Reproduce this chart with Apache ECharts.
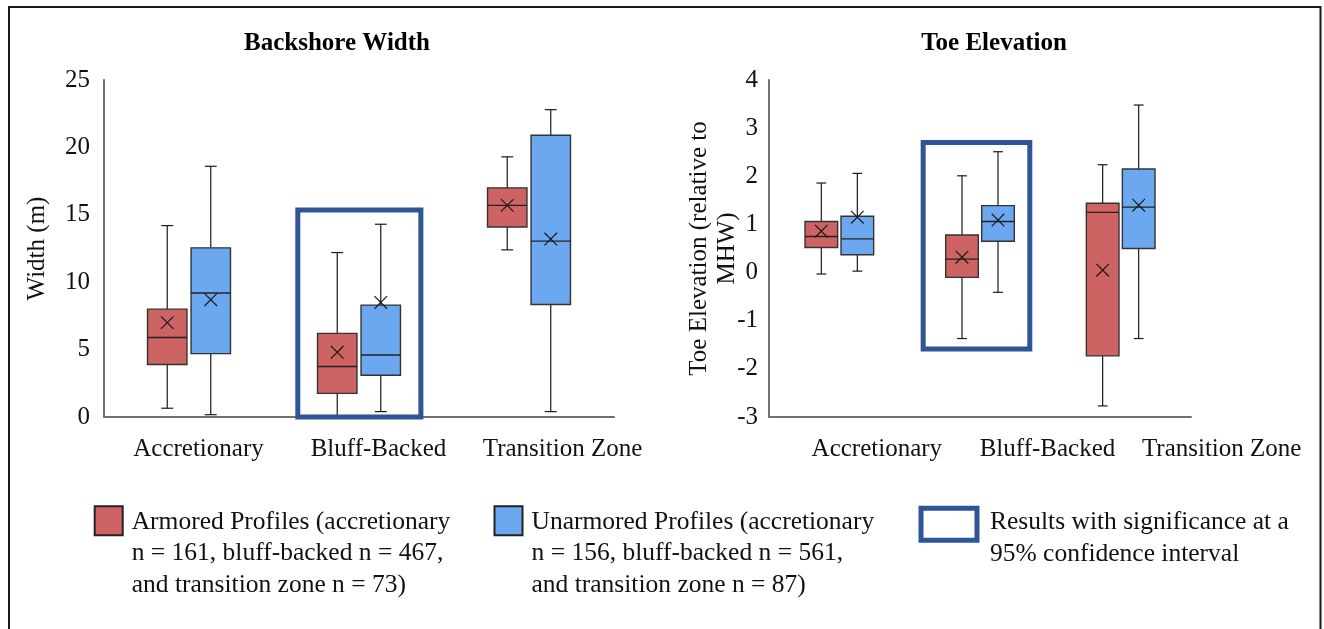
<!DOCTYPE html>
<html>
<head>
<meta charset="utf-8">
<title>Backshore Width and Toe Elevation</title>
<script src="https://cdn.jsdelivr.net/npm/echarts@6/dist/echarts.min.js"></script>
<style>
  html, body { margin: 0; padding: 0; background: #ffffff; }
  #chart { width: 1324px; height: 629px; }
</style>
</head>
<body>
<div id="chart"></div>
<script>
// ---- data -------------------------------------------------------------
const categories = ['Accretionary', 'Bluff-Backed', 'Transition Zone'];

// box statistics per category: [min, Q1, median, Q3, max, mean]
const widthArmored = [
  [0.65, 3.9, 5.9, 8.0, 14.2, 7.0],
  [0.0, 1.75, 3.75, 6.2, 12.2, 4.8],
  [12.4, 14.1, 15.7, 17.0, 19.3, 15.7]
];
const widthUnarmored = [
  [0.17, 4.7, 9.2, 12.55, 18.6, 8.7],
  [0.4, 3.1, 4.6, 8.3, 14.3, 8.5],
  [0.4, 8.35, 13.05, 20.9, 22.8, 13.2]
];
const toeArmored = [
  [-0.03, 0.52, 0.75, 1.06, 1.86, 0.86],
  [-1.37, -0.1, 0.28, 0.78, 2.01, 0.32],
  [-2.77, -1.73, 1.25, 1.44, 2.24, 0.05]
];
const toeUnarmored = [
  [0.03, 0.37, 0.70, 1.17, 2.06, 1.15],
  [-0.41, 0.65, 1.06, 1.39, 2.51, 1.09],
  [-1.37, 0.50, 1.36, 2.15, 3.48, 1.40]
];

// comparisons significant at 95%: [category index, lower value, upper value]
const widthSignificant = [[1, 0.0, 15.35]];
const toeSignificant = [[1, -1.59, 2.70]];

// value axis ticks
const widthTicks = { min: 0, max: 25, interval: 5 };
const toeTicks = { min: -3, max: 4, interval: 1 };

// titles and legend wording
const titles = ['Backshore Width', 'Toe Elevation'];
const widthAxisName = 'Width (m)';
const toeAxisName = 'Toe Elevation (relative to\nMHW)';
const armoredLines = ['Armored Profiles (accretionary', 'n = 161, bluff-backed n = 467,', 'and transition zone n = 73)'];
const unarmoredLines = ['Unarmored Profiles (accretionary', 'n = 156, bluff-backed n = 561,', 'and transition zone n = 87)'];
const significantLines = ['Results with significance at a', '95% confidence interval'];

// ---- styling ----------------------------------------------------------
const FONT = "'Liberation Serif', 'Times New Roman', serif";
const RED = '#CD6363';
const BLUE = '#6CA8EF';
const SIG_BLUE = '#2F5597';
const AXIS_GRAY = '#707070';
const LEGEND_LINE = 31.5;

const armoredName = armoredLines.join(' ');
const unarmoredName = unarmoredLines.join(' ');
const significantName = significantLines.join(' ');
const legendText = {};
legendText[armoredName] = armoredLines.join('\n');
legendText[unarmoredName] = unarmoredLines.join('\n');
legendText[significantName] = significantLines.join('\n');

// box-and-whisker with a mean cross; side = -1 (left of pair) or +1 (right)
function boxRenderer(side, fill) {
  return function (params, api) {
    const cat = api.value(0);
    const band = api.size([1, 0])[0];
    const x = api.coord([cat, 0])[0] + side * 0.128 * band;
    const w = 0.232 * band;
    const y = function (i) { return api.coord([cat, api.value(i)])[1]; };
    const yMin = y(1), yQ1 = y(2), yMed = y(3), yQ3 = y(4), yMax = y(5), yMean = y(6);
    const cap = w * 0.3;
    const m = 6.3;
    const line = { stroke: '#1a1a1a', lineWidth: 1.2 };
    return {
      type: 'group',
      children: [
        { type: 'line', shape: { x1: x, y1: yMax, x2: x, y2: yQ3 }, style: line },
        { type: 'line', shape: { x1: x, y1: yQ1, x2: x, y2: yMin }, style: line },
        { type: 'line', shape: { x1: x - cap / 2, y1: yMax, x2: x + cap / 2, y2: yMax }, style: line },
        { type: 'line', shape: { x1: x - cap / 2, y1: yMin, x2: x + cap / 2, y2: yMin }, style: line },
        { type: 'rect', shape: { x: x - w / 2, y: yQ3, width: w, height: yQ1 - yQ3 },
          style: { fill: fill, stroke: '#333333', lineWidth: 1.4 } },
        { type: 'line', shape: { x1: x - w / 2, y1: yMed, x2: x + w / 2, y2: yMed },
          style: { stroke: '#222222', lineWidth: 1.4 } },
        { type: 'line', shape: { x1: x - m, y1: yMean - m, x2: x + m, y2: yMean + m }, style: line },
        { type: 'line', shape: { x1: x - m, y1: yMean + m, x2: x + m, y2: yMean - m }, style: line }
      ]
    };
  };
}

// outline around a significant category; lo/hi are band fractions from its centre
function sigRenderer(lo, hi) {
  return function (params, api) {
    const cat = api.value(0);
    const band = api.size([1, 0])[0];
    const cx = api.coord([cat, 0])[0];
    const yLow = api.coord([cat, api.value(1)])[1];
    const yHigh = api.coord([cat, api.value(2)])[1];
    return {
      type: 'rect',
      shape: { x: cx + lo * band, y: yHigh, width: (hi - lo) * band, height: yLow - yHigh },
      style: { fill: 'none', stroke: SIG_BLUE, lineWidth: 5 }
    };
  };
}

function withIndex(rows) {
  return rows.map(function (r, i) { return [i].concat(r); });
}

// category labels sit a little right of their bands
function categoryAxis(gridIndex, shifts) {
  const rich = {};
  shifts.forEach(function (s, i) {
    rich['c' + i] = { fontFamily: FONT, fontSize: 25, color: '#111', padding: [0, 0, 0, 2 * s] };
  });
  return {
    type: 'category',
    gridIndex: gridIndex,
    data: categories,
    axisTick: { show: false },
    axisLine: { show: true, onZero: false, lineStyle: { color: AXIS_GRAY, width: 2 } },
    axisLabel: {
      interval: 0,
      margin: 20,
      formatter: function (v, i) { return '{c' + i + '|' + v + '}'; },
      rich: rich
    },
    splitLine: { show: false }
  };
}

function valueAxis(gridIndex, ticks, name, nameGap, labelMargin) {
  return {
    type: 'value',
    gridIndex: gridIndex,
    min: ticks.min,
    max: ticks.max,
    interval: ticks.interval,
    splitLine: { show: false },
    axisTick: { show: false },
    axisLine: { show: true, lineStyle: { color: AXIS_GRAY, width: 2 } },
    axisLabel: { fontFamily: FONT, fontSize: 25, color: '#111', margin: labelMargin },
    name: name,
    nameLocation: 'middle',
    nameGap: nameGap,
    nameMoveOverlap: false,
    nameTextStyle: { fontFamily: FONT, fontSize: 25, color: '#111', lineHeight: 28.5 }
  };
}

function boxSeries(name, axisIndex, rows, side, fill) {
  return {
    type: 'custom',
    name: name,
    xAxisIndex: axisIndex,
    yAxisIndex: axisIndex,
    itemStyle: { color: fill },
    encode: { x: 0, y: [1, 2, 3, 4, 5, 6] },
    renderItem: boxRenderer(side, fill),
    data: withIndex(rows),
    z: 2
  };
}

function sigSeries(axisIndex, rows, lo, hi) {
  return {
    type: 'custom',
    name: significantName,
    xAxisIndex: axisIndex,
    yAxisIndex: axisIndex,
    itemStyle: { color: '#ffffff' },
    encode: { x: 0, y: [1, 2] },
    renderItem: sigRenderer(lo, hi),
    data: rows,
    z: 3
  };
}

// legend swatch sits beside the first text line: the icon path spans the whole
// text block height, with the visible box drawn at its top
function legendBlock(name, left, top, w, h, boxTop, color, border, borderW, textPad) {
  const lines = legendText[name].split('\n').length;
  const blockH = lines * LEGEND_LINE;
  const icon = 'path://M0,0 M0,' + boxTop + 'L' + w + ',' + boxTop + 'L' + w + ',' + (boxTop + h) +
    'L0,' + (boxTop + h) + 'Z M' + w + ',' + blockH;
  return {
    selectedMode: false,
    left: left,
    top: top,
    padding: 0,
    itemWidth: w,
    itemHeight: blockH,
    icon: icon,
    data: [{ name: name, icon: icon, itemStyle: { color: color, borderColor: border, borderWidth: borderW } }],
    formatter: function (n) { return legendText[n]; },
    textStyle: { fontFamily: FONT, fontSize: 25.5, color: '#111', lineHeight: LEGEND_LINE, padding: textPad }
  };
}

const chart = echarts.init(document.getElementById('chart'), null, { renderer: 'canvas' });

chart.setOption({
  backgroundColor: '#ffffff',
  animation: false,
  title: [
    { text: titles[0], left: 337, top: 31, padding: 0, textAlign: 'center',
      textStyle: { fontFamily: FONT, fontSize: 25, fontWeight: 'bold', color: '#000' } },
    { text: titles[1], left: 994, top: 31, padding: 0, textAlign: 'center',
      textStyle: { fontFamily: FONT, fontSize: 25, fontWeight: 'bold', color: '#000' } }
  ],
  grid: [
    { left: 104, top: 80, width: 510, height: 337, outerBoundsMode: 'none' },
    { left: 769, top: 80, width: 422, height: 337, outerBoundsMode: 'none' }
  ],
  xAxis: [
    categoryAxis(0, [9.5, 19.5, 33.5]),
    categoryAxis(1, [37.5, 67.5, 101])
  ],
  yAxis: [
    valueAxis(0, widthTicks, widthAxisName, 52, 14),
    valueAxis(1, toeTicks, toeAxisName, 27, 11)
  ],
  legend: [
    legendBlock(armoredName, 93.7, 505.3, 28, 29, 0, RED, '#222222', 2, [0, 0, 0, 4]),
    legendBlock(unarmoredName, 493.5, 505.3, 28, 29, 0, BLUE, '#222222', 2, [0, 0, 0, 4]),
    legendBlock(significantName, 918.5, 504.3, 56, 32, 1.5, '#ffffff', SIG_BLUE, 5, [0, 0, 0, 8])
  ],
  graphic: [
    // frame around the whole figure
    { type: 'rect', shape: { x: 9, y: 7, width: 1311.5, height: 660 },
      style: { fill: 'none', stroke: '#1a1a1a', lineWidth: 2 }, silent: true, z: 0 }
  ],
  series: [
    boxSeries(armoredName, 0, widthArmored, -1, RED),
    boxSeries(unarmoredName, 0, widthUnarmored, 1, BLUE),
    boxSeries(armoredName, 1, toeArmored, -1, RED),
    boxSeries(unarmoredName, 1, toeUnarmored, 1, BLUE),
    sigSeries(0, widthSignificant, -0.36, 0.364),
    sigSeries(1, toeSignificant, -0.404, 0.354)
  ]
});
</script>
</body>
</html>
